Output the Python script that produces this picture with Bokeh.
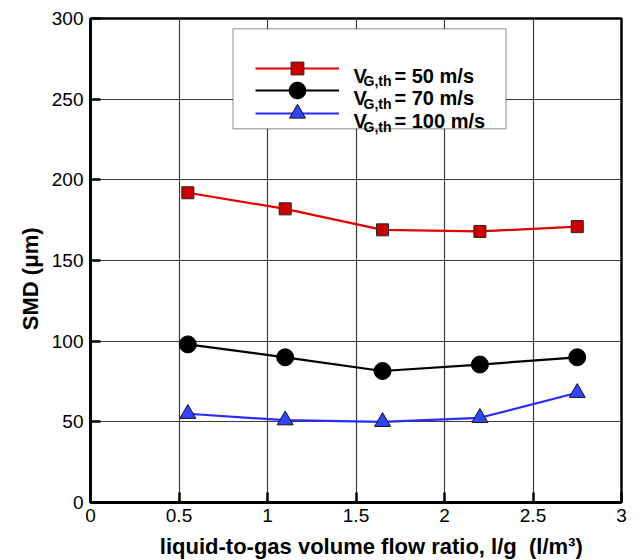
from bokeh.plotting import figure
from bokeh.models import Legend, LegendItem, Label, BoxAnnotation, Range1d, FixedTicker
from bokeh.embed import file_html
from bokeh.resources import INLINE

# ---- data ----
x_ratio = [0.55, 1.10, 1.65, 2.20, 2.75]
smd_50 = [192, 182, 169, 168, 171]
smd_70 = [98, 90, 81.5, 85.5, 90]
smd_100 = [55, 51, 50, 52.5, 68]
x_ticks = [0, 0.5, 1, 1.5, 2, 2.5, 3]
y_ticks = [0, 50, 100, 150, 200, 250, 300]
speed_labels = ["= 50 m/s", "= 70 m/s", "= 100 m/s"]
x_title = "liquid-to-gas volume flow ratio, l/g\u00a0\u00a0(l/m\u00b3)"
y_title = "SMD (\u03bcm)"

FONT = "Liberation Sans"
BL, BR, BT, BB = 90, 21, 18, 58
FW, FH = 531, 484
FRAME_BOTTOM = BT + FH  # canvas y of frame bottom
NB = "\u00a0"

p = figure(frame_width=FW, frame_height=FH,
           x_range=Range1d(0, 3), y_range=Range1d(0, 300),
           output_backend="svg", toolbar_location=None,
           min_border_left=BL, min_border_right=BR,
           min_border_top=BT, min_border_bottom=BB)

p.background_fill_color = "white"
p.border_fill_color = "white"
p.outline_line_color = "black"
p.outline_line_width = 2.5

for ax in (p.xaxis, p.yaxis):
    ax.axis_line_width = 3
    ax.axis_line_color = "black"
    ax.major_tick_in = 10
    ax.major_tick_out = 0
    ax.major_tick_line_width = 2.5
    ax.major_tick_line_color = "black"
    ax.minor_tick_line_color = None
    ax.major_label_text_font = FONT
    ax.major_label_text_font_size = "19px"
    ax.major_label_text_color = "black"
    ax.axis_label_text_font = FONT
    ax.axis_label_text_font_style = "bold"
    ax.axis_label_text_font_size = "22px"
    ax.axis_label_text_color = "black"

p.xaxis.ticker = FixedTicker(ticks=x_ticks)
p.yaxis.ticker = FixedTicker(ticks=y_ticks)
p.xaxis.major_label_standoff = 6
p.yaxis.major_label_standoff = 7
p.xaxis.axis_label_standoff = 9
p.yaxis.axis_label_standoff = 6
# leading / trailing no-break spaces shift the centred titles like in the reference
p.xaxis.axis_label = NB * 5 + x_title
p.yaxis.axis_label = y_title + NB * 6

p.xgrid.ticker = FixedTicker(ticks=x_ticks)
p.ygrid.ticker = FixedTicker(ticks=y_ticks)
for g in (p.xgrid, p.ygrid):
    g.grid_line_color = "#3a3a3a"
    g.grid_line_width = 1.2

# ---- series ----
l50 = p.line(x_ratio, smd_50, line_color="#e30000", line_width=2.2)
m50 = p.scatter(x_ratio, smd_50, marker="square", size=12,
                fill_color="#cc0000", line_color="#222222", line_width=1)
l70 = p.line(x_ratio, smd_70, line_color="black", line_width=2.2)
m70 = p.scatter(x_ratio, smd_70, marker="circle", size=17,
                fill_color="black", line_color="black")
l100 = p.line(x_ratio, smd_100, line_color="#2a2aff", line_width=2.2)
m100 = p.scatter(x_ratio, smd_100, marker="triangle", size=16,
                 fill_color="#3344ff", line_color="#111111", line_width=1)

# ---- legend box ----
box = BoxAnnotation(left=232.5 - BL, right=505.5 - BL,
                    top=FRAME_BOTTOM - 28.3, bottom=FRAME_BOTTOM - 128.3,
                    left_units="screen", right_units="screen",
                    top_units="screen", bottom_units="screen",
                    fill_color="white", fill_alpha=1.0,
                    line_color="black", line_width=1.5, level="guide")
p.add_layout(box)

rows = [((l50, m50), 67.7, 32), ((l70, m70), 90.3, 42), ((l100, m100), 113.0, 40)]
baselines = [75.3, 97.9, 120.5]
for (rends, cy, gh), base, txt in zip(rows, baselines, speed_labels):
    leg = Legend(items=[LegendItem(label=" ", renderers=list(rends))],
                 location=(255 - BL, FRAME_BOTTOM - cy - gh / 2),
                 glyph_width=84, glyph_height=gh,
                 padding=0, margin=0, spacing=0, label_standoff=0,
                 label_width=0, label_height=0, label_text_font_size="1px",
                 border_line_alpha=0, background_fill_alpha=0)
    p.add_layout(leg)
    p.add_layout(Label(x=353 - BL, y=FRAME_BOTTOM - base, x_units="screen", y_units="screen",
                       text="V", text_font=FONT, text_font_style="bold",
                       text_font_size="20px", text_baseline="alphabetic", text_color="black"))
    p.add_layout(Label(x=363 - BL, y=FRAME_BOTTOM - base - 5.5, x_units="screen", y_units="screen",
                       text="G,th", text_font=FONT, text_font_style="bold",
                       text_font_size="14px", text_baseline="alphabetic", text_color="black"))
    p.add_layout(Label(x=394 - BL, y=FRAME_BOTTOM - base, x_units="screen", y_units="screen",
                       text=txt, text_font=FONT, text_font_style="bold",
                       text_font_size="20px", text_baseline="alphabetic", text_color="black"))

open("out.html", "w").write(file_html(p, INLINE))
